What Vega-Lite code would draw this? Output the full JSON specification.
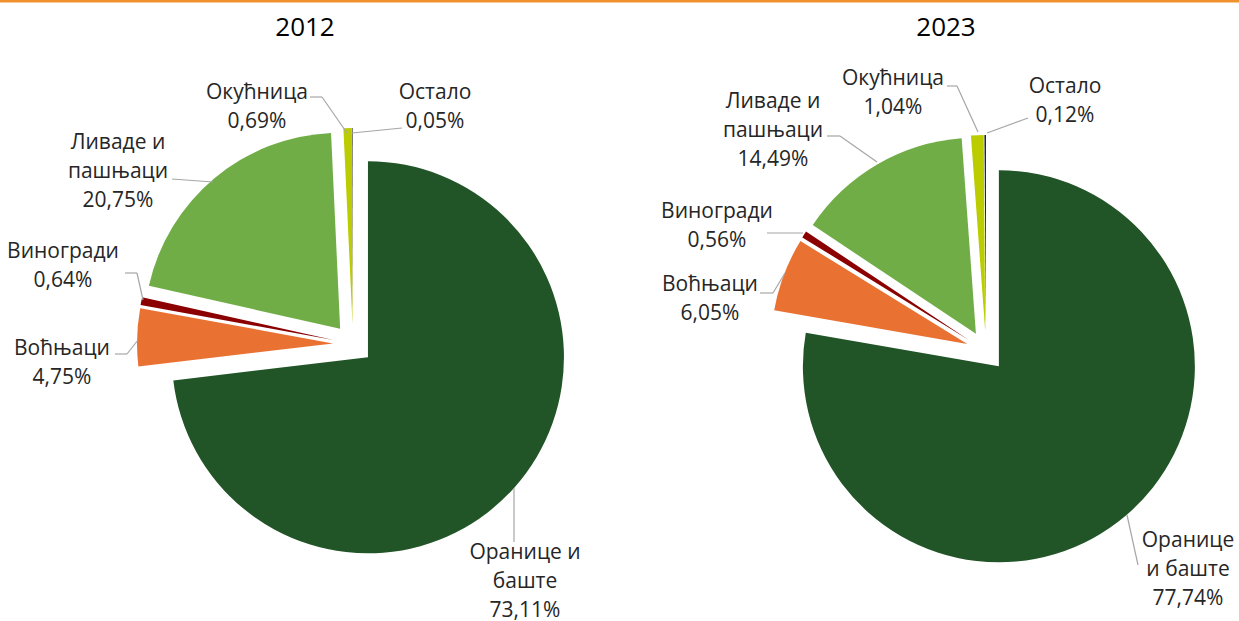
{
  "$schema": "https://vega.github.io/schema/vega-lite/v6.json",
  "width": 1239,
  "height": 621,
  "padding": 0,
  "autosize": {"type": "none"},
  "background": "white",
  "config": {"view": {"stroke": null}, "font": "Open Sans"},
  "data": {
    "values": [
      {"year": "2012", "category": "Оранице и баште", "value": 73.11},
      {"year": "2012", "category": "Воћњаци", "value": 4.75},
      {"year": "2012", "category": "Виногради", "value": 0.64},
      {"year": "2012", "category": "Ливаде и пашњаци", "value": 20.75},
      {"year": "2012", "category": "Окућница", "value": 0.69},
      {"year": "2012", "category": "Остало", "value": 0.05},
      {"year": "2023", "category": "Оранице и баште", "value": 77.74},
      {"year": "2023", "category": "Воћњаци", "value": 6.05},
      {"year": "2023", "category": "Виногради", "value": 0.56},
      {"year": "2023", "category": "Ливаде и пашњаци", "value": 14.49},
      {"year": "2023", "category": "Окућница", "value": 1.04},
      {"year": "2023", "category": "Остало", "value": 0.12}
    ]
  },
  "transform": [
    {"window": [{"op": "row_number", "as": "idx"}], "groupby": ["year"]},
    {"stack": "value", "groupby": ["year"], "sort": [{"field": "idx", "order": "ascending"}], "offset": "normalize", "as": ["v0", "v1"]},
    {"calculate": "(datum.v0 + datum.v1) * PI", "as": "mid"},
    {"calculate": "(datum.year == '2023' && datum.category == 'Оранице и баште' ? 'Оранице\\nи баште' : replace(datum.category, ' и ', ' и\\n')) + '\\n' + replace(format(datum.value, '.2f'), '.', ',') + '%'", "as": "label"}
  ],
  "layer": [
    {
      "data": {"values": [{}]},
      "mark": {"type": "rule", "color": "#F0912E", "strokeWidth": 3},
      "encoding": {"y": {"value": 1}}
    },
    {
      "mark": {
        "type": "arc",
        "outerRadius": 196,
        "xOffset": {"expr": "20 * sin(datum.mid)"},
        "yOffset": {"expr": "-20 * cos(datum.mid)"}
      },
      "encoding": {
        "x": {"field": "year", "type": "nominal", "scale": {"type": "point", "range": [353, 986], "padding": 0}, "axis": null},
        "y": {"field": "year", "type": "nominal", "scale": {"type": "point", "range": [344, 351], "padding": 0}, "axis": null},
        "theta": {"field": "v0", "type": "quantitative", "scale": {"domain": [0, 1]}, "stack": null},
        "theta2": {"field": "v1"},
        "color": {
          "field": "category",
          "type": "nominal",
          "scale": {
            "domain": ["Оранице и баште", "Воћњаци", "Виногради", "Ливаде и пашњаци", "Окућница", "Остало"],
            "range": ["#215527", "#E97132", "#8B0000", "#70AD47", "#BBCC00", "#1A1A1A"]
          },
          "legend": null
        }
      }
    },
    {
      "mark": {
        "type": "rule",
        "color": "#A6A6A6",
        "strokeWidth": 1.2,
        "xOffset": {"expr": "(datum.year == '2012' ? [161,-238,-228,-181,-43,49] : [152,-226,-219,-159,-39,42])[datum.idx - 1]"},
        "x2Offset": {"expr": "(datum.year == '2012' ? [161,-226,-216,-181,-31,49] : [152,-213,-219,-146,-29,42])[datum.idx - 1]"},
        "yOffset": {"expr": "(datum.year == '2012' ? [198,10,-71,-165,-247,-216] : [214,-58,-118,-215,-265,-233])[datum.idx - 1]"},
        "y2Offset": {"expr": "(datum.year == '2012' ? [198,10,-71,-165,-247,-216] : [214,-58,-118,-215,-265,-233])[datum.idx - 1]"}
      },
      "encoding": {
        "x": {"field": "year", "type": "nominal"},
        "y": {"field": "year", "type": "nominal"},
        "x2": {"field": "year"},
        "y2": {"field": "year"}
      }
    },
    {
      "mark": {
        "type": "rule",
        "color": "#A6A6A6",
        "strokeWidth": 1.2,
        "xOffset": {"expr": "(datum.year == '2012' ? [161,-226,-216,-181,-31,49] : [152,-213,-219,-146,-29,42])[datum.idx - 1]"},
        "x2Offset": {"expr": "(datum.year == '2012' ? [161,-215,-210,-140,-6,-1] : [141,-201,-183,-109,-8,1])[datum.idx - 1]"},
        "yOffset": {"expr": "(datum.year == '2012' ? [198,10,-71,-165,-247,-216] : [214,-58,-118,-215,-265,-233])[datum.idx - 1]"},
        "y2Offset": {"expr": "(datum.year == '2012' ? [144,-4,-44,-162,-211,-211] : [164,-78,-118,-189,-219,-218])[datum.idx - 1]"}
      },
      "encoding": {
        "x": {"field": "year", "type": "nominal"},
        "y": {"field": "year", "type": "nominal"},
        "x2": {"field": "year"},
        "y2": {"field": "year"}
      }
    },
    {
      "mark": {
        "type": "text",
        "fontSize": 21,
        "color": "#262626",
        "align": "center",
        "baseline": "middle",
        "lineBreak": "\n",
        "lineHeight": 29,
        "dx": {"expr": "(datum.year == '2012' ? [172,-291,-290,-235,-96,82] : [202,-276,-269,-213,-93,79])[datum.idx - 1]"},
        "dy": {"expr": "(datum.year == '2012' ? [209,5,-92,-201,-251,-251] : [190,-66,-139,-249,-272,-264])[datum.idx - 1]"}
      },
      "encoding": {
        "x": {"field": "year", "type": "nominal"},
        "y": {"field": "year", "type": "nominal"},
        "text": {"field": "label"}
      }
    },
    {
      "transform": [{"filter": "datum.idx == 1"}],
      "mark": {
        "type": "text",
        "fontSize": 26,
        "color": "#000000",
        "align": "center",
        "baseline": "middle",
        "dx": {"expr": "datum.year == '2012' ? -48 : -40"},
        "dy": {"expr": "datum.year == '2012' ? -316 : -323"}
      },
      "encoding": {
        "x": {"field": "year", "type": "nominal"},
        "y": {"field": "year", "type": "nominal"},
        "text": {"field": "year"}
      }
    }
  ]
}
